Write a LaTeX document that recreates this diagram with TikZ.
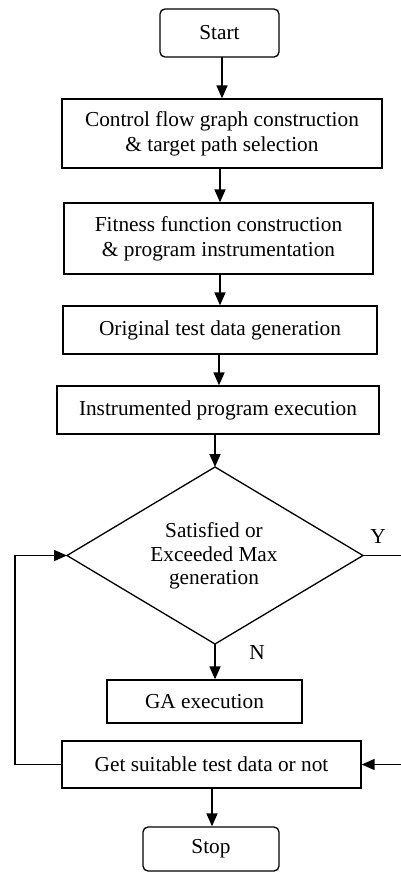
\documentclass[tikz,border=0pt]{standalone}
\usepackage{fontspec}
\setmainfont{Liberation Serif}
\usetikzlibrary{arrows.meta}
\begin{document}
\begin{tikzpicture}[x=1pt,y=-1pt,
  txt/.style={font=\fontsize{21.3}{25}\selectfont},
  box/.style={txt,draw,line width=1.3pt,inner sep=0pt,align=center},
  term/.style={box,rounded corners=5pt},
  arr/.style={line width=1.6pt,-{Triangle[length=13pt,width=11pt]}},
  line/.style={line width=1.3pt}]
\useasboundingbox (0,0) rectangle (401,873);
\clip (0,0) rectangle (401,873);
\node[term,minimum width=119pt,minimum height=48pt] (start) at (219.5,33) {Start};
\node[box,minimum width=320pt,minimum height=69pt] (b1) at (222,133.5) {Control flow graph construction\\\& target path selection};
\node[box,minimum width=309pt,minimum height=71pt] (b2) at (218.5,238.5) {Fitness function construction\\\& program instrumentation};
\node[box,minimum width=314pt,minimum height=48pt] (b3) at (220,330) {Original test data generation};
\node[box,minimum width=322pt,minimum height=48pt] (b4) at (218,410) {Instrumented program execution};
% decision diamond
\coordinate (dtop) at (215,467);
\coordinate (dright) at (363,555.5);
\coordinate (dbot) at (215,644);
\coordinate (dleft) at (67,555.5);
\draw[line] (dtop) -- (dright) -- (dbot) -- (dleft) -- cycle;
\node[txt,align=center,font=\fontsize{21.3}{23.5}\selectfont] (dtext) at (214,556) {Satisfied or\\Exceeded Max\\generation};
\node[box,minimum width=195pt,minimum height=43pt] (ga) at (204.5,701.5) {GA execution};
\node[box,minimum width=299pt,minimum height=47pt] (get) at (211.5,764.5) {Get suitable test data or not};
\node[term,minimum width=136pt,minimum height=44pt] (stop) at (211,849) {Stop};
\node[txt] (ylab) at (378,537) {Y};
\node[txt] (nlab) at (257,653) {N};
% connectors
\coordinate (c1) at (222,57);
\draw[arr] (c1) -- (c1 |- b1.north);
\coordinate (c2) at (220,168);
\draw[arr] (c2) -- (c2 |- b2.north);
\coordinate (c3) at (220,274);
\draw[arr] (c3) -- (c3 |- b3.north);
\coordinate (c4) at (219,354);
\draw[arr] (c4) -- (c4 |- b4.north);
\draw[arr] (b4.south -| dtop) -- (dtop);
\draw[arr] (dbot) -- (dbot |- ga.north);
\draw[arr] (get.south -| 212,0) -- (212,0 |- stop.north);
\coordinate (lc) at (15,764.5);
\draw[arr] (get.west) -- (lc) -- (lc |- dleft) -- (dleft);
\coordinate (rc) at (404,555.5);
\draw[arr] (dright) -- (rc) -- (rc |- get.east) -- (get.east);
\end{tikzpicture}
\end{document}
